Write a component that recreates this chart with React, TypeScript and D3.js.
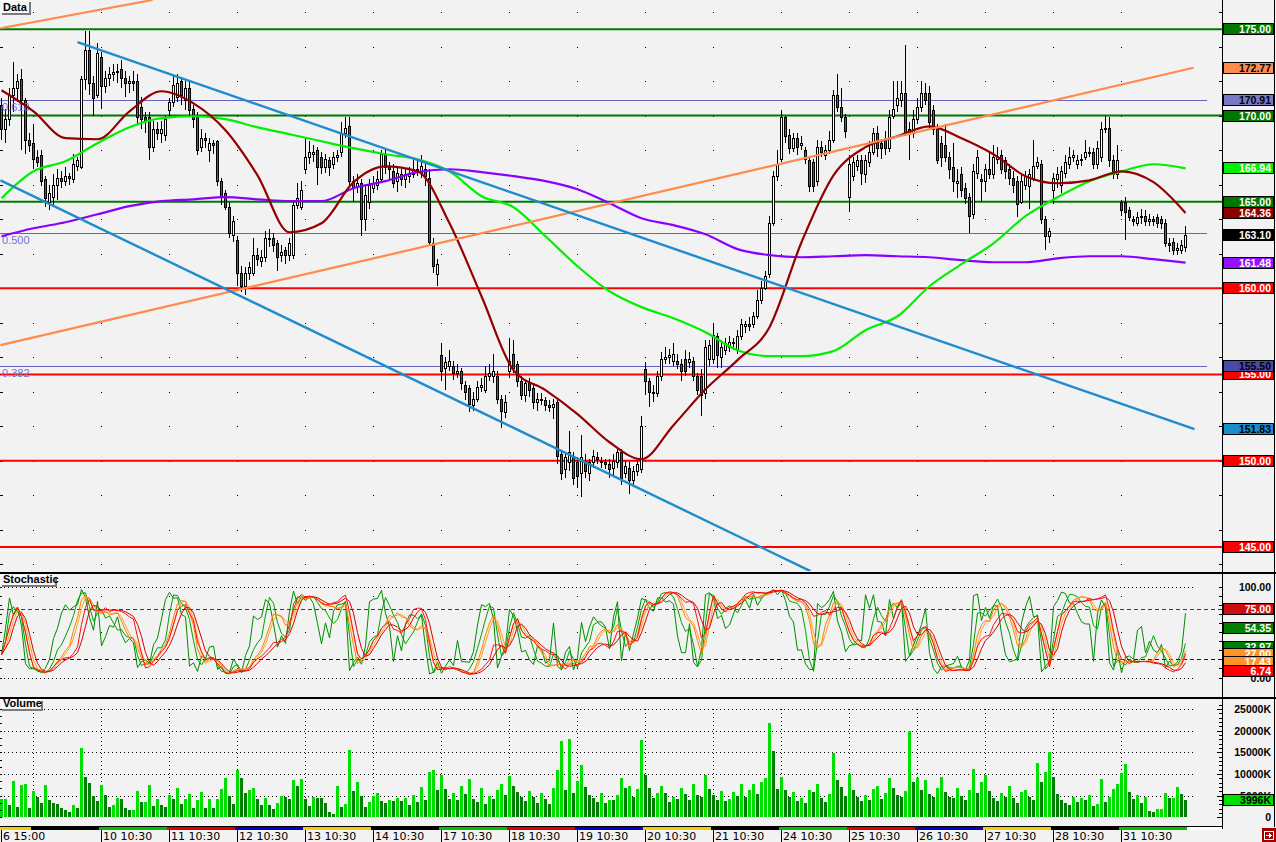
import React, { useMemo } from "react";
import * as d3 from "d3";

type Bar = [number, number, number, number]; // open, high, low, close

const ohlc: Bar[] = [
  [170.6,171.0,168.6,169.2],[169.2,170.4,168.4,169.8],[169.8,171.6,169.4,171.2],[171.2,173.1,170.2,171.6],
  [171.6,172.4,170.8,172.0],[172.1,172.7,168.0,170.9],[170.9,171.0,167.8,168.6],[168.6,169.0,167.9,168.3],
  [168.4,169.5,166.9,167.5],[167.6,168.0,167.0,167.3],[167.7,168.0,165.9,166.2],[166.3,166.5,164.7,165.2],
  [165.0,166.0,164.5,165.5],[165.3,166.6,164.7,166.0],[166.0,166.9,165.1,166.4],[166.4,166.8,165.8,166.2],
  [166.2,167.0,165.9,166.5],[166.5,166.7,166.0,166.4],[166.3,167.8,166.1,167.2],[167.1,167.6,166.8,167.4],
  [167.0,172.3,166.9,172.1],[172.1,174.9,171.5,173.8],[173.8,174.9,171.2,171.9],[171.9,172.3,170.0,171.0],
  [171.2,174.2,171.0,173.6],[173.4,173.7,170.4,171.7],[171.7,172.6,171.3,172.2],[172.2,172.8,171.7,172.4],
  [172.4,173.0,172.0,172.5],[172.5,173.0,171.9,172.6],[172.7,173.2,171.6,172.2],[172.2,172.6,171.1,171.9],
  [171.9,172.3,171.3,172.0],[172.0,172.6,171.4,171.9],[172.0,172.4,169.5,169.9],[170.5,171.1,169.2,169.8],
  [169.9,170.2,169.0,169.7],[169.9,170.2,167.4,168.2],[168.2,169.7,167.9,169.2],[169.2,169.6,168.6,169.0],
  [169.0,169.7,168.4,169.2],[168.9,170.0,168.5,169.8],[170.3,171.0,170.0,170.8],[170.8,172.3,170.5,171.8],
  [171.1,172.4,170.8,171.9],[172.0,172.2,170.6,171.2],[170.9,172.0,170.3,171.6],[171.6,172.0,170.0,170.3],
  [170.4,170.6,169.3,169.8],[169.9,170.2,167.7,168.0],[168.2,169.2,167.9,168.7],[168.7,169.0,168.1,168.6],
  [168.0,168.7,167.3,168.4],[168.4,168.6,167.8,168.3],[168.5,168.6,165.9,166.2],[166.2,166.4,164.8,165.3],
  [165.5,165.7,164.5,164.7],[164.7,165.0,162.9,163.2],[163.1,164.2,162.7,163.9],[162.8,163.0,160.1,160.9],
  [160.9,161.3,159.8,160.1],[160.1,161.2,159.6,160.9],[160.9,161.5,160.5,161.2],[160.9,162.9,160.7,161.9],
  [161.9,162.3,161.3,161.7],[161.6,162.2,161.2,161.8],[161.8,163.3,161.5,162.9],[162.9,163.4,162.4,162.9],
  [162.9,163.2,162.1,162.5],[162.6,162.8,161.0,161.8],[161.9,162.5,161.5,162.1],[162.2,162.4,161.4,161.9],
  [161.9,162.9,161.6,162.6],[161.9,165.0,161.7,164.8],[164.8,166.1,164.6,165.2],[164.7,166.2,164.5,165.7],
  [166.9,168.7,166.6,167.6],[167.6,168.5,167.2,167.9],[167.8,168.3,167.3,167.9],[168.0,168.2,166.0,167.0],
  [167.6,167.9,166.6,167.0],[167.0,167.8,166.7,167.5],[167.4,167.6,166.5,167.0],[167.2,167.9,166.9,167.6],
  [167.6,168.0,167.3,167.7],[167.9,169.6,167.6,169.0],[169.0,169.9,168.7,169.3],[169.4,169.9,165.9,166.2],
  [166.2,166.5,165.0,165.8],[165.9,166.6,165.5,166.1],[166.1,166.3,163.0,164.0],[164.0,165.9,163.3,165.4],
  [165.0,166.3,164.6,166.0],[165.8,166.5,165.5,166.1],[166.0,166.8,165.7,166.3],[166.3,168.0,166.1,167.8],
  [167.8,168.0,166.6,167.0],[167.0,167.3,166.3,166.9],[166.8,167.2,165.8,166.1],[166.2,167.0,165.6,166.7],
  [166.6,166.9,165.9,166.3],[166.3,166.9,165.8,166.6],[166.5,167.0,166.1,166.7],[166.6,167.5,166.4,166.9],
  [166.9,167.4,166.5,166.9],[166.7,167.7,166.4,167.1],[166.9,167.3,165.9,166.5],[166.4,166.9,162.5,162.7],
  [162.6,162.9,160.9,161.3],[160.8,161.7,160.1,161.4],[156.1,156.8,154.6,155.2],[155.4,156.0,154.1,155.7],
  [155.5,156.4,155.2,155.8],[155.5,155.8,154.7,155.1],[155.1,155.6,154.8,155.2],[155.2,155.4,154.1,154.5],
  [154.4,154.6,153.5,154.0],[154.2,154.4,152.8,153.3],[153.2,154.0,152.9,153.6],[153.6,154.6,153.4,154.3],
  [154.3,154.8,154.0,154.4],[154.1,155.5,153.9,154.9],[154.9,155.6,154.6,155.1],[154.9,156.2,154.5,155.2],
  [154.9,155.2,153.3,153.6],[153.6,153.8,151.9,152.9],[152.8,153.8,152.5,153.4],[155.2,157.1,154.8,155.8],
  [156.2,157.0,155.1,155.4],[155.6,155.8,154.3,154.6],[154.6,154.9,153.5,153.8],[153.8,154.7,153.4,154.5],
  [154.5,154.8,153.7,154.1],[154.2,154.4,153.0,153.4],[153.4,153.9,152.9,153.6],[153.6,153.9,153.2,153.5],
  [153.5,153.7,152.9,153.2],[153.2,153.5,152.8,153.1],[153.1,153.6,152.4,153.3],[153.4,153.5,149.8,150.3],
  [150.4,150.6,148.9,149.3],[149.5,150.4,149.0,150.2],[149.9,151.7,149.4,150.5],[150.3,150.5,148.6,149.0],
  [149.9,150.2,148.4,149.1],[149.3,151.5,147.9,150.2],[150.0,150.4,149.0,149.4],[149.3,150.1,148.8,149.9],
  [149.9,150.6,149.6,150.3],[150.2,150.5,149.8,150.1],[150.0,150.2,149.6,149.9],[149.9,150.1,149.5,149.8],
  [149.8,150.1,149.0,149.5],[149.6,150.4,149.2,150.0],[149.9,150.8,149.6,150.5],[150.5,150.7,148.6,149.0],
  [149.3,150.0,149.0,149.7],[149.6,149.9,148.1,148.9],[148.9,149.7,148.6,149.4],[149.4,150.0,149.1,149.8],
  [149.5,152.6,149.3,152.0],[155.3,155.7,153.8,154.6],[154.6,154.8,153.1,154.0],[154.0,154.4,153.4,153.9],
  [153.9,155.2,153.7,154.9],[154.9,156.3,154.6,155.9],[155.9,156.6,155.6,156.0],[156.0,156.5,155.6,156.1],
  [155.8,156.8,155.5,156.2],[155.8,156.2,155.3,155.6],[155.6,155.9,154.6,155.2],[155.9,156.4,154.9,155.2],
  [155.7,156.3,155.4,155.9],[155.8,156.0,154.6,154.9],[154.9,155.1,153.8,154.1],[154.9,155.3,152.6,153.8],
  [153.9,157.0,153.6,156.6],[155.9,157.0,155.5,156.7],[155.9,158.0,155.6,157.3],[157.2,157.4,155.4,156.1],
  [156.0,157.0,155.4,156.6],[156.4,157.1,156.1,156.8],[156.6,157.2,156.3,156.9],[156.9,157.1,156.4,156.8],
  [156.4,157.6,156.2,157.2],[157.2,158.2,157.0,157.9],[157.8,158.1,157.4,157.9],[157.9,158.3,157.5,157.8],
  [157.9,158.6,157.7,158.4],[158.4,159.9,158.2,159.3],[159.3,160.4,159.1,160.0],[160.0,161.0,159.9,160.7],
  [160.8,164.2,160.6,163.8],[163.8,166.8,163.6,166.5],[166.5,168.0,166.2,167.2],[167.5,170.3,167.3,169.9],
  [169.9,170.0,168.4,168.8],[168.9,169.2,167.8,168.1],[168.1,169.0,167.9,168.7],[168.7,169.0,167.7,168.2],
  [168.3,168.8,168.0,168.4],[168.0,168.2,167.2,167.5],[167.4,167.6,165.6,165.9],[167.3,167.5,165.6,165.9],
  [166.2,168.6,165.9,168.2],[168.2,168.5,167.6,167.9],[167.7,168.3,167.4,168.0],[168.0,169.1,167.8,168.6],
  [168.6,171.5,168.4,171.2],[171.2,172.4,170.2,170.5],[170.5,171.6,169.6,169.9],[169.9,170.1,168.7,169.1],
  [165.3,167.7,164.4,167.2],[166.5,167.6,166.2,167.3],[167.1,167.7,166.8,167.4],[167.4,167.7,166.0,166.7],
  [166.6,167.7,166.1,167.4],[167.3,168.5,167.0,167.9],[167.9,169.3,167.7,169.0],[169.0,169.4,167.6,168.1],
  [168.4,168.6,167.5,168.1],[168.6,169.1,167.7,168.1],[168.1,170.3,167.9,169.9],[170.0,172.0,169.8,170.4],
  [170.6,172.0,170.2,171.0],[170.9,172.0,170.5,171.3],[171.3,174.1,168.8,169.0],[169.2,169.6,167.4,169.0],
  [169.0,170.3,168.7,169.8],[169.8,171.0,169.5,170.5],[170.5,172.0,170.2,171.3],[171.3,171.9,170.6,170.9],
  [171.3,171.7,169.3,169.6],[170.3,170.6,168.9,169.2],[169.2,169.5,167.2,167.4],[168.4,168.8,167.0,167.6],
  [168.3,169.5,167.3,167.6],[167.6,167.9,166.3,166.9],[167.0,168.4,165.6,166.2],[166.1,166.9,165.2,166.2],
  [166.6,167.0,165.3,165.7],[165.8,166.1,164.9,165.2],[165.3,165.5,163.2,164.2],[164.3,167.2,164.0,166.8],
  [166.7,168.0,166.3,167.6],[166.3,166.6,165.0,166.2],[166.2,167.2,165.6,166.9],[166.9,167.9,166.3,166.6],
  [166.6,168.3,166.3,167.6],[167.5,168.2,167.2,167.6],[167.7,168.0,166.6,166.9],[167.4,167.6,166.3,166.8],
  [166.9,167.2,166.0,166.4],[166.4,166.8,165.5,166.0],[166.2,166.5,164.1,164.9],[165.0,166.6,164.9,166.2],
  [166.0,166.8,165.7,166.5],[165.9,166.9,164.6,166.6],[166.4,168.6,166.2,167.1],[167.1,167.6,166.9,167.3],
  [167.2,167.4,163.7,164.0],[164.0,164.2,162.2,163.0],[163.0,163.5,162.6,163.3],[165.7,166.7,164.9,166.4],
  [166.3,167.0,165.8,166.6],[166.0,167.1,165.5,166.8],[166.7,167.7,166.4,167.3],[167.2,168.2,166.9,167.6],
  [167.6,168.0,167.3,167.7],[167.2,167.7,166.9,167.4],[167.4,167.8,167.1,167.5],[167.6,168.6,167.4,167.9],
  [167.9,168.2,167.6,167.9],[167.9,168.1,166.9,167.2],[167.2,168.5,166.9,168.1],[167.6,169.6,167.3,169.2],
  [169.2,170.0,169.0,169.3],[169.3,169.9,167.0,167.4],[167.4,167.7,166.3,166.6],[166.6,168.3,166.3,167.4],
  [165.0,165.1,164.2,164.5],[165.0,165.3,162.8,164.4],[164.5,164.7,163.9,164.1],[164.0,164.2,163.6,163.9],
  [163.8,164.4,163.6,164.1],[164.1,164.6,163.7,164.2],[164.2,164.5,163.6,163.9],[163.9,164.3,163.6,164.0],
  [164.0,164.2,163.6,163.9],[164.1,164.3,163.5,163.8],[164.0,164.2,163.4,163.8],[163.8,164.0,162.4,162.6],
  [162.6,162.9,162.1,162.5],[162.7,162.9,161.9,162.2],[162.2,162.6,161.9,162.3],[162.2,162.8,162.0,162.5],
  [162.4,163.6,162.1,163.1],
];

const volumes: number[] = [
  4200,4200,2830,8400,2450,7400,7650,2140,6100,4700, 3360,7400,4050,3290,3060,2060,1760,1300,2900,2060,
  15900,9330,7950,4970,3820,7400,5200,2450,2900,4430, 4200,2220,1760,1760,6100,3590,3590,7400,2600,4200,
  2830,2450,5120,4200,6800,3130,4200,5350,2220,3900, 5890,2220,4200,2220,4280,6500,9020,4890,3060,10860,
  9020,5660,6350,6730,4280,2900,4430,2900,1910,3290, 4890,4590,4280,8560,7190,8790,4280,2600,4740,4510,
  4430,3290,1220,760,7190,2450,3060,15520,6100,8260, 4970,2450,3590,4970,5660,3820,3290,4050,3820,4500,
  3800,4400,2900,5200,3600,6900,4100,10500,11000,6200,
  9800,6500,4200,5600,3900,7200,5400,8800,4300,3500,6800,3100,5000,4300,6300,7600,5200,
  9500,7200,5900,4600,3800,6100,4700,3200,5600,4300,3100,6700,11000,17600,6200,18000,5500,
  8400,12000,6900,5100,4400,3600,5700,3300,4100,3900,5200,9000,6800,7300,4800,6500,17800,
  9800,6700,4400,5600,7200,5500,3600,4800,4200,6800,5300,3900,7600,5100,4600,9800,6600,
  5200,4100,6000,3700,4300,5800,5000,7600,4800,6200,7800,5300,8200,9000,21800,15400,6600,
  9200,6300,4700,5800,3800,4400,3300,6200,5900,7700,4500,3500,5300,14800,8600,6900,5000,
  9900,6200,4800,3800,5100,4100,6600,7300,4300,5600,9100,6700,5200,4700,6100,20000,8200,
  9100,6400,8700,5300,4700,6700,9400,5800,4600,4400,6800,5000,3900,6200,11200,5600,8200,
  9800,6100,4500,3800,5500,4800,7200,4400,3300,5800,6300,4600,3900,12500,8200,10500,15000,
  9400,5300,4100,3300,2800,4800,3500,4400,3900,5200,2600,3100,8800,3600,4700,6500,7800,
  10200,12400,5800,4200,5100,3300,4600,1500,1300,1900,2000,5500,4400,4400,6900,5400,3996,
];

const dayStartBars = [0, 8, 25, 42, 59, 76, 93, 110, 127, 144, 161, 178, 195, 212, 229, 246, 263, 280];
const dayLabels = ["6 15:00", "", "10 10:30", "11 10:30", "12 10:30", "13 10:30", "14 10:30", "17 10:30",
  "18 10:30", "19 10:30", "20 10:30", "21 10:30", "24 10:30", "25 10:30", "26 10:30", "27 10:30", "28 10:30", "31 10:30"];

const maSampleStep = 8;
const maShort = [171.47,170.25,168.69,168.63,170.25,171.41,170.71,169.15,166.54,163.24,163.76,166.14,167.06,166.77,
  163.76,159.53,155.25,154.09,152.70,151.07,150.09,152.06,154.14,155.83,157.74,162.66,166.54,168.17,168.80,169.38,
  168.69,167.76,166.49,166.08,166.25,166.77,166.14,164.36];
const maMedium = [165.21,166.77,167.35,168.40,169.32,169.85,169.96,169.79,169.32,168.92,168.51,168.11,167.76,167.47,
  166.77,165.33,164.69,163.01,161.27,159.82,158.90,158.26,157.45,156.40,156.06,156.06,156.35,157.56,158.37,160.11,
  161.39,162.60,164.17,165.27,166.20,166.77,167.18,166.94];
const maLong = [163.01,163.47,163.82,164.28,164.75,165.04,165.15,165.27,165.15,165.04,165.04,165.79,166.20,166.72,
  166.89,166.72,166.49,166.20,165.73,164.92,164.05,163.65,163.12,162.26,161.91,161.79,161.85,161.91,161.85,161.79,
  161.62,161.50,161.50,161.73,161.85,161.85,161.68,161.48];

const resistanceLevels = [175, 170, 165];
const supportLevels = [160, 155, 150, 145];
const fibPrices = [170.91, 163.2, 155.5];
const fibRatios = ["0.618", "0.500", "0.382"];

const orangeUpper: [number, number][] = [[-0.25, 175.06], [37.75, 176.7]];
const orangeLower: [number, number][] = [[-0.25, 156.7], [298, 172.77]];
const blueUpper: [number, number][] = [[19, 174.26], [298.25, 151.83]];
const blueLower: [number, number][] = [[-0.25, 166.25], [202.25, 143.6]];

const priceTagValues = [175, 172.77, 170.91, 170, 166.94, 165, 164.36, 163.1, 161.48, 160, 155, 155.5, 151.83, 150, 145];
const stochTagValues = [75, 54.35, 32.97, 26, 17.43, 6.74];
const stochTagTexts = ["75.00", "54.35", "32.97", "27.00", "17.43", "6.74"];
const volumeAxisValues = [25000, 20000, 15000, 10000, 5000];
const lastVolumeText = "3996K";

// ---------- style tables ----------
const BG = "#f2f2f2";
const priceTagStyle: Record<string, [string, string]> = {
  "175": ["#007800", "#fff"], "172.77": ["#ff8c50", "#000"], "170.91": ["#7a7ac4", "#000"], "170": ["#007800", "#fff"],
  "166.94": ["#00f000", "#fff"], "165": ["#007800", "#fff"], "164.36": ["#8e0000", "#fff"], "163.1": ["#000000", "#fff"],
  "161.48": ["#9410ff", "#fff"], "160": ["#ff0000", "#fff"], "155": ["#ff0000", "#fff"], "155.5": ["#4a4aa8", "#000"],
  "151.83": ["#1c8ccc", "#000"], "150": ["#ff0000", "#fff"], "145": ["#ff0000", "#fff"],
};
const stochTagStyle: [string, string][] = [
  ["#cc1010", "#fff"], ["#008000", "#fff"], ["#008000", "#fff"], ["#ff9424", "#fff"], ["#ff9424", "#fff"], ["#ff0000", "#fff"],
];
const dayColors = ["#f0d000", "#000000", "#00c000", "#e00000", "#0000c8"];

const FONT = "'Liberation Sans', Arial, sans-serif";

function rawK(n: number): number[] {
  return ohlc.map((_, i) => {
    const s = Math.max(0, i - n + 1);
    let hh = -Infinity, ll = Infinity;
    for (let j = s; j <= i; j++) { hh = Math.max(hh, ohlc[j][1]); ll = Math.min(ll, ohlc[j][2]); }
    return hh === ll ? 50 : ((ohlc[i][3] - ll) / (hh - ll)) * 100;
  });
}
function sma(a: number[], n: number): number[] {
  return a.map((_, i) => {
    const s = Math.max(0, i - n + 1);
    let t = 0;
    for (let j = s; j <= i; j++) t += a[j];
    return t / (i - s + 1);
  });
}

function Tag({ y, text, bg, fg }: { y: number; text: string; bg: string; fg: string }) {
  const yy = Math.round(y);
  return (
    <g>
      <rect x={1223.5} y={yy - 5.5} width={50} height={11} fill={bg} stroke="#000" strokeWidth={1} />
      <text x={1271} y={yy + 4} textAnchor="end" fontFamily={FONT} fontWeight="bold" fontSize={10.5} fill={fg}>{text}</text>
    </g>
  );
}

function TitleBox({ y, w, h, text }: { y: number; w: number; h: number; text: string }) {
  return (
    <g>
      <rect x={2} y={y + h} width={w} height={2} fill="#7a7a7a" />
      <rect x={w} y={y + 2} width={2} height={h} fill="#7a7a7a" />
      <rect x={0} y={y} width={w} height={h} fill="#f6f6f6" />
      <rect x={0} y={y} width={w} height={1} fill="#ffffff" />
      <text x={3} y={y + h - 2.5} fontFamily={FONT} fontWeight="bold" fontSize={11} fill="#000">{text}</text>
    </g>
  );
}

export default function App() {
  const n = ohlc.length;
  const xS = d3.scaleLinear().domain([0, n]).range([1, 1 + 4 * n]);
  const yP = d3.scaleLinear().domain([145, 175]).range([547, 29.3]);
  const yS = d3.scaleLinear().domain([0, 100]).range([677.5, 586.5]);
  const yV = d3.scaleLinear().domain([0, 25000]).range([817.3, 709]);

  const stoch = useMemo(() => {
    const k5 = rawK(5);
    const k8 = sma(rawK(8), 2);
    const k10 = sma(rawK(10), 3);
    const k10b = sma(k10, 2);
    const k14 = sma(rawK(14), 3);
    const k14b = sma(k14, 3);
    return [
      { d: k5, c: "#008a00" }, { d: k8, c: "#00a000" },
      { d: k10b, c: "#ffa020" }, { d: k10, c: "#ff8000" },
      { d: k14b, c: "#d80000" }, { d: k14, c: "#ff1010" },
    ];
  }, []);

  const stochLine = d3.line<number>().x((_, i) => xS(i) + 0.5).y((v) => yS(v));
  const maLine = d3.line<number>().x((_, i) => xS(i * maSampleStep) + 0.5).y((v) => yP(v)).curve(d3.curveMonotoneX);
  const tl = (pts: [number, number][]) =>
    d3.line<[number, number]>().x((p) => xS(p[0]) + 0.5).y((p) => yP(p[1]))(pts) || "";

  const gridXs = dayStartBars.slice(1).map((b) => Math.round(xS(b)));
  const priceGrid = d3.range(176, 143, -2);

  return (
    <svg width={1276} height={842} style={{ position: "absolute", left: 0, top: 0, display: "block" }}
      xmlns="http://www.w3.org/2000/svg">
      <defs>
        <clipPath id="mainClip"><rect x={0} y={0} width={1222} height={571} /></clipPath>
        <clipPath id="stochClip"><rect x={0} y={574} width={1222} height={123} /></clipPath>
      </defs>
      <rect x={0} y={0} width={1276} height={842} fill={BG} />

      {/* ===== main price panel ===== */}
      <g shapeRendering="crispEdges">
        {gridXs.map((gx) => priceGrid.map((p) => (
          <rect key={`gd${gx}-${p}`} x={gx} y={Math.round(yP(p))} width={1} height={1} fill="#000" />
        )))}
        {priceGrid.map((p) => (
          <g key={`pt${p}`}>
            <rect x={0} y={Math.round(yP(p))} width={3} height={1} fill="#000" />
            <rect x={1219} y={Math.round(yP(p))} width={3} height={1} fill="#000" />
          </g>
        ))}
      </g>

      <g clipPath="url(#mainClip)">
        {fibPrices.map((p, i) => (
          <line key={`fib${i}`} x1={0} x2={1207} y1={Math.round(yP(p)) + 0.5} y2={Math.round(yP(p)) + 0.5} stroke="#6464c0" strokeWidth={1} />
        ))}
        {resistanceLevels.map((p) => (
          <line key={`rl${p}`} x1={0} x2={1222} y1={yP(p)} y2={yP(p)} stroke="#007800" strokeWidth={2} />
        ))}
        {supportLevels.map((p) => (
          <line key={`sl${p}`} x1={0} x2={1222} y1={yP(p)} y2={yP(p)} stroke="#ff0000" strokeWidth={2} />
        ))}

        {/* candles */}
        <g shapeRendering="crispEdges">
          {ohlc.map(([o, h, l, c], i) => {
            const cx = Math.round(xS(i));
            const yTop = Math.round(yP(Math.max(o, c)));
            const yBot = Math.round(yP(Math.min(o, c)));
            const hh = Math.max(1, yBot - yTop);
            const up = c >= o;
            return (
              <g key={`c${i}`}>
                <rect x={cx} y={Math.round(yP(h))} width={1} height={Math.max(1, Math.round(yP(l)) - Math.round(yP(h)))} fill="#000" />
                <rect x={cx - 1} y={yTop} width={3} height={hh + 1} fill="#000" />
                {hh > 1 && <rect x={cx} y={yTop + 1} width={1} height={hh - 1} fill={up ? "#ffffff" : "#5c5c5c"} />}
              </g>
            );
          })}
        </g>

        {fibPrices.map((p, i) => (
          <text key={`fibt${i}`} x={2} y={Math.round(yP(p)) + 11} fontFamily={FONT} fontSize={11} fill="#7272d8">{fibRatios[i]}</text>
        ))}

        {/* moving averages */}
        <path d={maLine(maLong) || ""} fill="none" stroke="#8a00ff" strokeWidth={2.2} />
        <path d={maLine(maMedium) || ""} fill="none" stroke="#00f000" strokeWidth={2.2} />
        <path d={maLine(maShort) || ""} fill="none" stroke="#940000" strokeWidth={2.2} />

        {/* trend lines */}
        <path d={tl(orangeUpper)} stroke="#ff8a4c" strokeWidth={2.2} fill="none" />
        <path d={tl(orangeLower)} stroke="#ff8a4c" strokeWidth={2.2} fill="none" />
        <path d={tl(blueUpper)} stroke="#1f8ccc" strokeWidth={2.4} fill="none" />
        <path d={tl(blueLower)} stroke="#1f8ccc" strokeWidth={2.4} fill="none" />
      </g>

      <TitleBox y={0} w={29} h={13} text="Data" />

      {/* price tags */}
      {priceTagValues.map((v) => {
        const st = priceTagStyle[String(v)];
        return <Tag key={`ptag${v}`} y={yP(v)} text={v.toFixed(2)} bg={st[0]} fg={st[1]} />;
      })}

      {/* ===== stochastic panel ===== */}
      <g shapeRendering="crispEdges">
        <line x1={0} x2={1195} y1={Math.round(yS(100)) + 0.5} y2={Math.round(yS(100)) + 0.5} stroke="#000" strokeDasharray="1,3" />
        <line x1={0} x2={1195} y1={Math.round(yS(0)) + 0.5} y2={Math.round(yS(0)) + 0.5} stroke="#000" strokeDasharray="1,3" />
        {gridXs.map((gx) => [90, 50, 10].map((lv) => (
          <rect key={`sg${gx}-${lv}`} x={gx} y={Math.round(yS(lv))} width={1} height={1} fill="#000" />
        )))}
        {d3.range(0, 101, 10).map((lv) => (
          <g key={`st${lv}`}>
            <rect x={1219} y={Math.round(yS(lv))} width={3} height={1} fill="#000" />
            <rect x={0} y={Math.round(yS(lv))} width={2} height={1} fill="#000" />
          </g>
        ))}
      </g>
      <line x1={0} x2={1222} y1={Math.round(yS(75)) + 0.5} y2={Math.round(yS(75)) + 0.5} stroke="#cc0000" strokeDasharray="4,3" />
      <line x1={0} x2={1222} y1={Math.round(yS(20)) + 0.5} y2={Math.round(yS(20)) + 0.5} stroke="#0000cc" strokeDasharray="4,3" />
      <g clipPath="url(#stochClip)">
        {stoch.map((s, i) => (
          <path key={`sl${i}`} d={stochLine(s.d) || ""} fill="none" stroke={s.c} strokeWidth={1} />
        ))}
      </g>
      <TitleBox y={575} w={55} h={10} text="Stochastic" />
      <text x={1271} y={Math.round(yS(100)) + 4} textAnchor="end" fontFamily={FONT} fontWeight="bold" fontSize={10.5}>100.00</text>
      <text x={1271} y={Math.round(yS(0)) + 4} textAnchor="end" fontFamily={FONT} fontWeight="bold" fontSize={10.5}>0.00</text>
      {stochTagValues.map((v, i) => (
        <Tag key={`stag${i}`} y={yS(v)} text={stochTagTexts[i]} bg={stochTagStyle[i][0]} fg={stochTagStyle[i][1]} />
      ))}

      {/* ===== volume panel ===== */}
      <g shapeRendering="crispEdges">
        {volumeAxisValues.map((v) => (
          <line key={`vg${v}`} x1={0} x2={1195} y1={Math.round(yV(v)) + 0.5} y2={Math.round(yV(v)) + 0.5} stroke="#000" strokeDasharray="1,3" />
        ))}
        {gridXs.map((gx) => (
          <line key={`vv${gx}`} x1={gx + 0.5} x2={gx + 0.5} y1={709} y2={817} stroke="#000" strokeDasharray="1,3" />
        ))}
        {volumes.map((v, i) => {
          const cx = Math.round(xS(i));
          const yt = Math.round(yV(v));
          const bright = i === 0 || v >= volumes[i - 1];
          return <rect key={`v${i}`} x={cx - 1} y={yt} width={3} height={817 - yt} fill={bright ? "#00e000" : "#008000"} />;
        })}
        {d3.range(0, 26001, 1000).map((v) => (
          <rect key={`vt${v}`} x={v % 5000 === 0 ? 1217 : 1219} y={Math.round(yV(v))} width={v % 5000 === 0 ? 5 : 3} height={1} fill="#000" />
        ))}
        {d3.range(0, 26000, 5000 / 3).map((v, i) => (
          <rect key={`vl${i}`} x={0} y={Math.round(yV(v))} width={2} height={1} fill="#000" />
        ))}
      </g>
      <TitleBox y={699} w={41} h={10} text="Volume" />
      {volumeAxisValues.map((v) => (
        <text key={`vtx${v}`} x={1271} y={Math.round(yV(v)) + 4} textAnchor="end" fontFamily={FONT} fontWeight="bold" fontSize={10.5}>{`${v}K`}</text>
      ))}
      <text x={1271} y={Math.round(yV(0)) + 4} textAnchor="end" fontFamily={FONT} fontWeight="bold" fontSize={10.5}>0</text>
      <Tag y={yV(volumes[volumes.length - 1])} text={lastVolumeText} bg="#00e000" fg="#000" />

      {/* ===== frame ===== */}
      <g shapeRendering="crispEdges">
        <rect x={0} y={572} width={1276} height={2} fill="#000" />
        <rect x={0} y={697} width={1276} height={2} fill="#000" />
        <rect x={0} y={826} width={1223} height={1} fill="#000" />
        <rect x={1222} y={0} width={1} height={829} fill="#000" />
        <rect x={1274} y={0} width={1} height={827} fill="#000" />
        {dayStartBars.map((b, i) => {
          const x0 = Math.max(0, Math.round(xS(b)) - 2);
          const x1 = i + 1 < dayStartBars.length ? Math.round(xS(dayStartBars[i + 1])) - 2 : Math.round(xS(n)) - 2;
          return <rect key={`ds${i}`} x={x0} y={827} width={x1 - x0} height={3} fill={dayColors[i % dayColors.length]} />;
        })}
        <rect x={Math.round(xS(n)) - 2} y={827} width={1222 - (Math.round(xS(n)) - 2)} height={3} fill="#ffffff" />
        {dayStartBars.map((b, i) => dayLabels[i] ? (
          <rect key={`xt${i}`} x={Math.round(xS(b))} y={830} width={1} height={12} fill="#000" />
        ) : null)}
      </g>
      {dayStartBars.map((b, i) => dayLabels[i] ? (
        <text key={`xl${i}`} x={Math.round(xS(b)) + 2} y={840} fontFamily="'DejaVu Sans', sans-serif" fontSize={11} fill="#000">{dayLabels[i]}</text>
      ) : null)}

      {/* corner icon */}
      <g shapeRendering="crispEdges">
        <rect x={1262} y={828} width={14} height={14} fill="#a00000" />
        <rect x={1264.5} y={831.5} width={9} height={8} fill="none" stroke="#fff" />
        <path d="M1266 835.5 H1271 M1269 833.5 L1271 835.5 L1269 837.5" stroke="#fff" fill="none" />
      </g>
    </svg>
  );
}
